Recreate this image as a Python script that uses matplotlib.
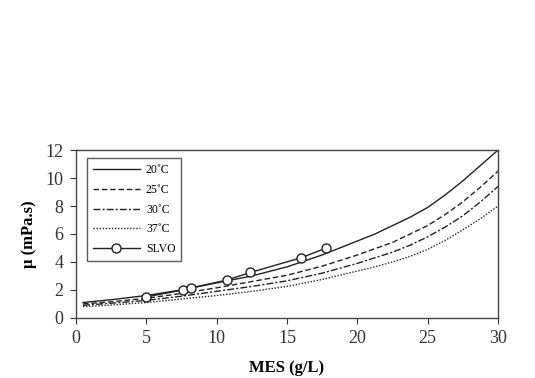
import matplotlib
matplotlib.use("Agg")
import matplotlib.pyplot as plt

plt.rcParams['font.family'] = ['Liberation Serif', 'DejaVu Serif']

# MES concentration (g/L) and viscosity (mPa.s)
mes = [0.5, 2.5, 5, 7.5, 10, 12.5, 15, 17.5, 20, 21.25, 22.5, 23.75, 25, 26.25, 27.5, 28.75, 30]
mu_20 = [1.1, 1.3, 1.6, 2.0, 2.5, 3.0, 3.65, 4.5, 5.5, 6.0, 6.6, 7.2, 7.9, 8.8, 9.8, 10.9, 12.0]
mu_25 = [1.0, 1.15, 1.4, 1.75, 2.15, 2.6, 3.05, 3.7, 4.5, 4.95, 5.4, 6.0, 6.6, 7.4, 8.3, 9.35, 10.5]
mu_30 = [0.9, 1.05, 1.25, 1.55, 1.9, 2.25, 2.65, 3.2, 3.9, 4.3, 4.7, 5.2, 5.8, 6.5, 7.3, 8.3, 9.4]
mu_37 = [0.8, 0.92, 1.1, 1.35, 1.6, 1.9, 2.25, 2.75, 3.35, 3.65, 4.0, 4.4, 4.9, 5.55, 6.3, 7.1, 8.0]

slvo_x = [5, 7.6, 8.2, 10.7, 12.4, 16, 17.8]
slvo_y = [1.5, 2.0, 2.15, 2.7, 3.25, 4.3, 5.0]

fig = plt.figure(figsize=(5.35, 3.78), dpi=100)
ax = fig.add_axes([0.142, 0.159, 0.789, 0.444])

c = '#222222'
ax.plot(mes, mu_20, linestyle='-', color=c, lw=1.0, label='20˚C')
ax.plot(mes, mu_25, linestyle=(0, (4, 2)), color=c, lw=1.0, label='25˚C')
ax.plot(mes, mu_30, linestyle=(0, (5, 1.5, 1.5, 1.5)), color=c, lw=1.0, label='30˚C')
ax.plot(mes, mu_37, linestyle=(0, (1, 1.2)), color=c, lw=1.0, label='37˚C')
ax.plot(slvo_x, slvo_y, linestyle='-', color=c, lw=1.0, marker='o', markersize=6.5,
        markerfacecolor='white', markeredgecolor=c, label='SLVO')

ax.set_xlim(0, 30)
ax.set_ylim(0, 12)
ax.set_xticks(range(0, 31, 5))
ax.set_yticks(range(0, 13, 2))
ax.tick_params(direction='out', length=4, labelsize=13, colors='#333333', pad=5)
for s in ax.spines.values():
    s.set_color('#444444')
    s.set_linewidth(1.0)

ax.set_xlabel('MES (g/L)', fontsize=12, fontweight='bold', labelpad=9)
ax.set_ylabel('μ (mPa.s)', fontsize=12, fontweight='bold', labelpad=6)

leg = ax.legend(loc='upper left', fontsize=8.5, frameon=True, fancybox=False,
                edgecolor='#333333', handlelength=4.0, borderpad=0.5,
                labelspacing=0.65, handletextpad=0.5, bbox_to_anchor=(0.012, 0.985))
leg.get_frame().set_linewidth(1.0)

fig.savefig('out.png', dpi=100)
